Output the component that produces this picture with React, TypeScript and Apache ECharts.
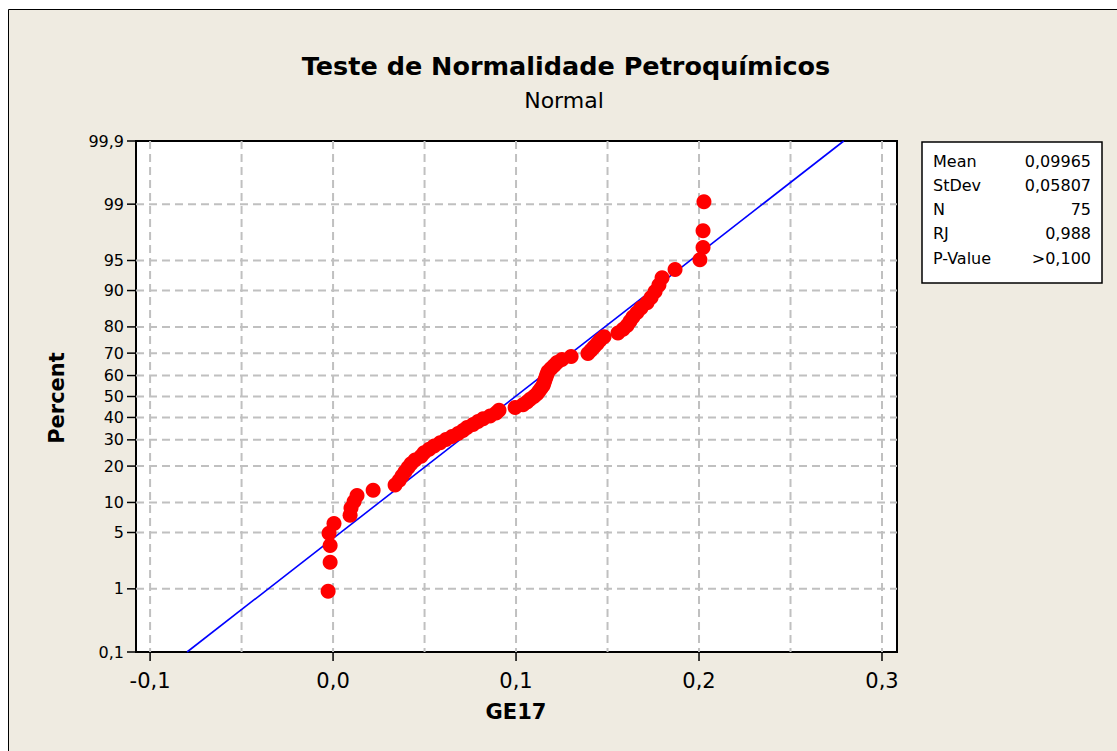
import React, { useEffect, useRef } from "react";
import * as echarts from "echarts";

// ---------- data ----------
const TITLE = "Teste de Normalidade Petroquímicos";
const SUBTITLE = "Normal";
const X_NAME = "GE17";
const Y_NAME = "Percent";

const ge17Values = [
  -0.0027, -0.0016, -0.0016, -0.0022, 0.0005, 0.0093, 0.0098, 0.0115, 0.0131, 0.0219,
  0.0339, 0.0361, 0.0377, 0.0393, 0.041, 0.0426, 0.0448, 0.0481, 0.0497, 0.0525,
  0.0552, 0.0585, 0.0617, 0.065, 0.0683, 0.071, 0.0732, 0.0765, 0.0792, 0.082,
  0.0858, 0.0891, 0.0907, 0.0995, 0.1038, 0.106, 0.1077, 0.1098, 0.1115, 0.1126,
  0.1137, 0.1148, 0.1153, 0.1158, 0.1164, 0.1169, 0.1175, 0.1191, 0.1208, 0.1224,
  0.1251, 0.1301, 0.1393, 0.141, 0.1426, 0.1443, 0.1459, 0.1481, 0.1557, 0.1585,
  0.1607, 0.1623, 0.1639, 0.1661, 0.1683, 0.1716, 0.1738, 0.176, 0.1781, 0.1798,
  0.1869, 0.2005, 0.2022, 0.2022, 0.2027,
];

const MEAN = 0.09965;
const STDEV = 0.05807;

const statLabels = ["Mean", "StDev", "N", "RJ", "P-Value"];
const statValues = ["0,09965", "0,05807", "75", "0,988", ">0,100"];

const percentTicks = [0.1, 1, 5, 10, 20, 30, 40, 50, 60, 70, 80, 90, 95, 99, 99.9];
const percentTickLabels = ["0,1", "1", "5", "10", "20", "30", "40", "50", "60", "70", "80", "90", "95", "99", "99,9"];

const xGridValues = [-0.1, -0.05, 0, 0.05, 0.1, 0.15, 0.2, 0.25, 0.3];
const xTickLabels = ["-0,1", "", "0,0", "", "0,1", "", "0,2", "", "0,3"];

const X_MIN = -0.1077;
const X_MAX = 0.3082;

// ---------- helpers ----------
function normInv(p: number): number {
  const a = [-39.69683028665376, 220.9460984245205, -275.9285104469687, 138.357751867269, -30.66479806614716, 2.506628277459239];
  const b = [-54.47609879822406, 161.5858368580409, -155.6989798598866, 66.80131188771972, -13.28068155288572];
  const c = [-0.007784894002430293, -0.3223964580411365, -2.400758277161838, -2.549732539343734, 4.374664141464968, 2.938163982698783];
  const d = [0.007784695709041462, 0.3224671290700398, 2.445134137142996, 3.754408661907416];
  const pl = 0.02425;
  const ph = 1 - pl;
  if (p < pl) {
    const q = Math.sqrt(-2 * Math.log(p));
    return (((((c[0] * q + c[1]) * q + c[2]) * q + c[3]) * q + c[4]) * q + c[5]) / ((((d[0] * q + d[1]) * q + d[2]) * q + d[3]) * q + 1);
  }
  if (p > ph) {
    const q = Math.sqrt(-2 * Math.log(1 - p));
    return -(((((c[0] * q + c[1]) * q + c[2]) * q + c[3]) * q + c[4]) * q + c[5]) / ((((d[0] * q + d[1]) * q + d[2]) * q + d[3]) * q + 1);
  }
  const q = p - 0.5;
  const r = q * q;
  return ((((((a[0] * r + a[1]) * r + a[2]) * r + a[3]) * r + a[4]) * r + a[5]) * q) / (((((b[0] * r + b[1]) * r + b[2]) * r + b[3]) * r + b[4]) * r + 1);
}

const FONT = '"DejaVu Sans", Verdana, sans-serif';
const Z_EDGE = normInv(0.999);

export default function App() {
  const ref = useRef<HTMLDivElement>(null);

  useEffect(() => {
    if (!ref.current) return;
    const chart = echarts.init(ref.current, null, { renderer: "svg" });
    const n = ge17Values.length;
    // median-rank plotting positions (Benard)
    const scatterData = ge17Values.map((v, i) => [v, normInv((i + 1 - 0.3) / (n + 0.4))]);
    const fitLine = [
      [MEAN - Z_EDGE * STDEV, -Z_EDGE],
      [MEAN + Z_EDGE * STDEV, Z_EDGE],
    ];

    const gridStyle = { stroke: "#c0c0c0", lineWidth: 2, lineDash: [8, 5] };

    const option: any = {
      animation: false,
      backgroundColor: "#ffffff",
      grid: {
        left: 136,
        right: 220,
        top: 141,
        bottom: 99,
        containLabel: false,
        outerBoundsMode: "none",
        show: true,
        backgroundColor: "#ffffff",
        borderColor: "#000000",
        borderWidth: 2,
      },
      xAxis: {
        type: "value",
        min: X_MIN,
        max: X_MAX,
        axisLine: { show: false },
        axisTick: { show: false },
        axisLabel: { show: false },
        splitLine: { show: false },
      },
      yAxis: {
        type: "value",
        min: -Z_EDGE,
        max: Z_EDGE,
        axisLine: { show: false },
        axisTick: { show: false },
        axisLabel: { show: false },
        splitLine: { show: false },
      },
      graphic: [
        {
          type: "rect",
          z: -10,
          silent: true,
          shape: { x: 8.5, y: 9.5, width: 1200, height: 800 },
          style: { fill: "#efebe1", stroke: "#000000", lineWidth: 1 },
        },
        {
          type: "text",
          x: 566,
          y: 66,
          z: 10,
          style: { text: TITLE, align: "center", verticalAlign: "middle", fill: "#000", fontSize: 25.5, fontWeight: "bold", fontFamily: FONT },
        },
        {
          type: "text",
          x: 564,
          y: 100,
          z: 10,
          style: { text: SUBTITLE, align: "center", verticalAlign: "middle", fill: "#000", fontSize: 22, fontFamily: FONT },
        },
        {
          type: "text",
          x: 516,
          y: 712,
          z: 10,
          style: { text: X_NAME, align: "center", verticalAlign: "middle", fill: "#000", fontSize: 21, fontWeight: "bold", fontFamily: FONT },
        },
        {
          type: "text",
          x: 57,
          y: 398,
          rotation: Math.PI / 2,
          z: 10,
          style: { text: Y_NAME, align: "center", verticalAlign: "middle", fill: "#000", fontSize: 21, fontWeight: "bold", fontFamily: FONT },
        },
        {
          type: "rect",
          z: 10,
          shape: { x: 922, y: 142, width: 180, height: 141 },
          style: { fill: "#ffffff", stroke: "#000000", lineWidth: 1.5 },
        },
        ...statLabels.map((t, k) => ({
          type: "text",
          x: 933,
          y: 161 + k * 24.3,
          z: 11,
          style: { text: t, align: "left", verticalAlign: "middle", fill: "#000", fontSize: 16, fontFamily: FONT },
        })),
        ...statValues.map((t, k) => ({
          type: "text",
          x: 1091,
          y: 161 + k * 24.3,
          z: 11,
          style: { text: t, align: "right", verticalAlign: "middle", fill: "#000", fontSize: 16, fontFamily: FONT },
        })),
      ],
      series: [
        {
          type: "custom",
          name: "yTicks",
          silent: true,
          clip: false,
          z: 2,
          coordinateSystem: "cartesian2d",
          data: percentTicks.map((p) => [X_MIN, normInv(p / 100)]),
          renderItem: (params: any, api: any) => {
            const i = params.dataIndex;
            const zv = api.value(1);
            const l = api.coord([X_MIN, zv]);
            const r = api.coord([X_MAX, zv]);
            const children: any[] = [];
            if (i > 0 && i < percentTicks.length - 1) {
              children.push({ type: "line", shape: { x1: l[0], y1: l[1], x2: r[0], y2: r[1] }, style: gridStyle });
            }
            children.push({ type: "line", shape: { x1: l[0] - 9, y1: l[1], x2: l[0], y2: l[1] }, style: { stroke: "#000", lineWidth: 1.5 } });
            children.push({
              type: "text",
              style: { text: percentTickLabels[i], x: l[0] - 12, y: l[1], align: "right", verticalAlign: "middle", fill: "#000", fontSize: 16, fontFamily: FONT },
            });
            return { type: "group", children };
          },
        },
        {
          type: "custom",
          name: "xTicks",
          silent: true,
          clip: false,
          z: 2,
          coordinateSystem: "cartesian2d",
          data: xGridValues.map((v) => [v, -Z_EDGE]),
          renderItem: (params: any, api: any) => {
            const i = params.dataIndex;
            const xv = api.value(0);
            const b = api.coord([xv, -Z_EDGE]);
            const t = api.coord([xv, Z_EDGE]);
            const children: any[] = [
              { type: "line", shape: { x1: b[0], y1: t[1], x2: b[0], y2: b[1] }, style: gridStyle },
            ];
            if (xTickLabels[i]) {
              children.push({ type: "line", shape: { x1: b[0], y1: b[1], x2: b[0], y2: b[1] + 9 }, style: { stroke: "#000", lineWidth: 1.5 } });
              children.push({
                type: "text",
                style: { text: xTickLabels[i], x: b[0], y: b[1] + 29, align: "center", verticalAlign: "middle", fill: "#000", fontSize: 21, fontFamily: FONT },
              });
            }
            return { type: "group", children };
          },
        },
        {
          type: "line",
          name: "fit",
          data: fitLine,
          showSymbol: false,
          silent: true,
          z: 3,
          lineStyle: { color: "#0000ff", width: 1.6 },
        },
        {
          type: "scatter",
          name: "GE17",
          data: scatterData,
          symbol: "circle",
          symbolSize: 15,
          z: 4,
          itemStyle: { color: "#ff0000", opacity: 1 },
        },
      ],
    };
    chart.setOption(option);
    return () => chart.dispose();
  }, []);

  return (
    <div
      ref={ref}
      style={{ position: "fixed", left: 0, top: 0, width: 1117, height: 751, background: "#ffffff" }}
    />
  );
}
